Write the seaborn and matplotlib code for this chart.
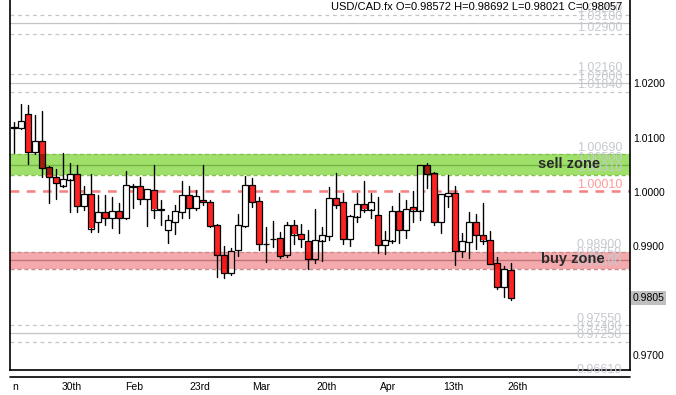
import numpy as np
import pandas as pd
import seaborn as sns
import matplotlib.pyplot as plt
import matplotlib.colors as mcolors
import matplotlib.transforms as mtransforms
from matplotlib.lines import Line2D

# OHLC candles (oldest first)
opens = [1.0119, 1.0118, 1.0143, 1.0074, 1.0093, 1.0045, 1.0027, 1.0012, 1.0023, 1.0033,
         0.9975, 0.9996, 0.9945, 0.9963, 0.9952, 0.9964, 0.9953, 1.0011, 1.0011, 0.9988,
         1.0003, 0.9968, 0.9931, 0.9945, 0.9964, 0.9995, 0.9971, 0.9985, 0.9981, 0.9939,
         0.9884, 0.9852, 0.9893, 0.9938, 1.0013, 0.9983, 0.9905, 0.9914, 0.9915, 0.9884,
         0.9939, 0.9922, 0.9909, 0.9877, 0.9911, 0.9920, 0.9988, 0.9981, 0.9914, 0.9955,
         0.9977, 0.9968, 0.9957, 0.9902, 0.9911, 0.9964, 0.9931, 0.9972, 0.9966, 1.0049,
         1.0034, 0.9945, 0.9992, 0.9998, 0.9892, 0.9909, 0.9944, 0.9920, 0.9911, 0.9869,
         0.98247, 0.98572]
highs = [1.0128, 1.0162, 1.0160, 1.0142, 1.0149, 1.0047, 1.0042, 1.0071, 1.0053, 1.0050,
         1.0011, 1.0033, 0.9995, 0.9995, 0.9991, 0.9980, 1.0039, 1.0015, 1.0028, 1.0005,
         1.0050, 0.9985, 0.9958, 0.9976, 1.0020, 1.0011, 1.0004, 1.0050, 0.9985, 0.9942,
         0.9901, 0.9897, 0.9960, 1.0029, 1.0026, 0.9990, 0.9936, 0.9947, 0.9926, 0.9944,
         0.9949, 0.9941, 0.9930, 0.9969, 0.9936, 1.0009, 1.0035, 0.9998, 0.9958, 0.9998,
         1.0020, 0.9998, 0.9991, 0.9928, 0.9974, 0.9998, 0.9985, 1.0001, 1.0049, 1.0053,
         1.0037, 0.9996, 1.0031, 1.0011, 0.9925, 0.9963, 0.9960, 0.9980, 0.9928, 0.9880,
         0.98633, 0.98692]
lows = [1.0071, 1.0115, 1.0052, 1.0069, 1.0028, 0.9980, 0.9988, 1.0010, 0.9964, 0.9964,
        0.9967, 0.9927, 0.9927, 0.9939, 0.9934, 0.9925, 0.9950, 0.9971, 0.9978, 0.9938,
        0.9953, 0.9939, 0.9906, 0.9923, 0.9953, 0.9953, 0.9966, 0.9976, 0.9936, 0.9844,
        0.9841, 0.9847, 0.9882, 0.9936, 0.9973, 0.9893, 0.9872, 0.9898, 0.9879, 0.9881,
        0.9904, 0.9898, 0.9858, 0.9870, 0.9874, 0.9911, 0.9971, 0.9905, 0.9900, 0.9945,
        0.9963, 0.9953, 0.9888, 0.9886, 0.9907, 0.9907, 0.9916, 0.9944, 0.9949, 1.0008,
        0.9939, 0.9925, 0.9973, 0.9865, 0.9881, 0.9879, 0.9895, 0.9904, 0.9867, 0.9822,
        0.98063, 0.98021]
closes = [1.0118, 1.0131, 1.0074, 1.0093, 1.0045, 1.0027, 1.0016, 1.0023, 1.0033, 0.9975,
          0.9996, 0.9933, 0.9963, 0.9952, 0.9964, 0.9953, 1.0012, 1.0010, 0.9988, 1.0005,
          0.9968, 0.9967, 0.9948, 0.9964, 0.9995, 0.9971, 0.9993, 0.9981, 0.9938, 0.9885,
          0.9852, 0.9891, 0.9939, 1.0013, 0.9982, 0.9904, 0.9904, 0.9913, 0.9883, 0.9939,
          0.9922, 0.9914, 0.9877, 0.9911, 0.9920, 0.9988, 0.9976, 0.9914, 0.9955, 0.9977,
          0.9968, 0.9981, 0.9902, 0.9911, 0.9964, 0.9931, 0.9968, 0.9966, 1.0049, 1.0033,
          0.9945, 0.9996, 0.9998, 0.9892, 0.9909, 0.9944, 0.9921, 0.9911, 0.9868, 0.9825,
          0.98578, 0.98057]

# x axis date labels (position in candle index)
date_ticks = [0.15, 8.3, 17.1, 26.6, 35.3, 44.6, 53.4, 62.7, 71.9]
date_labels = ['n', '30th', 'Feb', '23rd', 'Mar', '20th', 'Apr', '13th', '26th']

price_ticks = [0.97, 0.99, 1.00, 1.01, 1.02]
last_price = 0.9805

# gray support/resistance lines
level_prices = [1.0325, 1.0310, 1.0290, 1.0216, 1.0200, 1.0184, 0.9755, 0.9740, 0.9725, 0.9661]
level_dashed = [True, False, True, True, False, True, True, False, True, True]
level_texts = ['1.03250', '1.03100', '1.02900', '1.02160', '1.02000', '1.01840',
               '0.97550', '0.97400', '0.97250', '0.96610']

# zones: low, mid, high
sell_zone = [1.0031, 1.0050, 1.0069]
sell_texts = ['1.00310', '1.00500', '1.00690']
buy_zone = [0.9859, 0.9875, 0.9890]
buy_texts = ['0.98590', '0.98750', '0.98900']
pivot_price = 1.0001
pivot_text = '1.00010'

title = 'USD/CAD.fx O=0.98572 H=0.98692 L=0.98021 C=0.98057'

sns.set_theme(style='white')
plt.rcParams['font.family'] = ['Liberation Sans', 'DejaVu Sans']

df = pd.DataFrame({'open': opens, 'high': highs, 'low': lows, 'close': closes})
df['idx'] = np.arange(len(df))
df['lo'] = df[['open', 'close']].min(axis=1)
df['hi'] = df[['open', 'close']].max(axis=1)
df['up'] = df['close'] > df['open']

fig = plt.figure(figsize=(6.76, 3.95), dpi=100)
ax = fig.add_axes([10 / 676, 25 / 395, 620 / 676, 370 / 395])

RED = '#ff2222'
GREEN = '#9fe06b'
PINK = '#f4aaac'

# zones (behind the candles, multiplied onto bodies below)
for z, fc, lc_d, lc_s, texts in [(sell_zone, GREEN, '#86c04f', '#74b446', sell_texts),
                                  (buy_zone, PINK, '#c98a8c', '#c27375', buy_texts)]:
    ax.axhspan(z[0], z[2], color=fc, lw=0, zorder=1)
    ax.axhline(z[0], color=lc_d, lw=1, ls=(0, (3, 2)), zorder=1.2)
    ax.axhline(z[2], color=lc_d, lw=1, ls=(0, (3, 2)), zorder=1.2)
    ax.axhline(z[1], color=lc_s, lw=1, zorder=1.2)

for p, dashed in zip(level_prices, level_dashed):
    ax.axhline(p, color='#c4c4c4', lw=0.9, ls=(0, (3, 3)) if dashed else '-', zorder=1.2)

ax.axhline(pivot_price, color='#f58080', lw=1.8, ls=(0, (3.5, 3)), zorder=1.3)

# wicks
wick_df = pd.DataFrame({'idx': np.repeat(df['idx'].values, 2),
                        'price': np.column_stack([df['low'], df['high']]).ravel()})
sns.lineplot(data=wick_df, x='idx', y='price', units='idx', estimator=None,
             color='black', lw=1, ax=ax, zorder=2, legend=False)

# bodies
body_colors = np.where(df['up'], 'white', RED)
ax.bar(df['idx'], df['hi'] - df['lo'], bottom=df['lo'], width=0.72,
       color=body_colors, lw=0, zorder=3)

# multiply-blend the zones onto the bodies
for z, fc in [(sell_zone, GREEN), (buy_zone, PINK)]:
    zc = np.array(mcolors.to_rgb(fc))
    for _, r in df.iterrows():
        lo = max(r['lo'], z[0])
        hi = min(r['hi'], z[2])
        if hi > lo:
            bc = np.array(mcolors.to_rgb('white' if r['up'] else RED))
            ax.bar(r['idx'], hi - lo, bottom=lo, width=0.72, color=tuple(zc * bc),
                   lw=0, zorder=3.1)

ax.bar(df['idx'], df['hi'] - df['lo'] + 0.00004, bottom=df['lo'] - 0.00002, width=0.72,
       facecolor='none', edgecolor='black', lw=0.9, zorder=3.2)

ax.set_xlim(-4 / 7, 88)
ax.set_ylim(1 - 178 / 5440, 1 + 192 / 5440)

trans = mtransforms.blended_transform_factory(ax.transAxes, ax.transData)
lab_x = 0.987
for p, t in zip(level_prices, level_texts):
    ax.text(lab_x, p + 0.00012, t, transform=trans, ha='right', va='bottom',
            fontsize=9, color='#c6c9d0', zorder=4)
for z, texts in [(sell_zone, sell_texts), (buy_zone, buy_texts)]:
    for p, t in zip(z, texts):
        ax.text(lab_x, p + 0.00012, t, transform=trans, ha='right', va='bottom',
                fontsize=9, color='#c6c9d0', zorder=4)
ax.text(lab_x, pivot_price + 0.00012, pivot_text, transform=trans, ha='right',
        va='bottom', fontsize=9, color='#ff9a9a', zorder=4)

ax.text(0.9516, 1.0052, 'sell zone', transform=trans, ha='right', va='center',
        fontsize=10.5, fontweight='bold', color='#2a2a2a', zorder=5)
ax.text(0.9597, 0.9876, 'buy zone', transform=trans, ha='right', va='center',
        fontsize=10.5, fontweight='bold', color='#2a2a2a', zorder=5)

ax.text(0.987, 0.995, title, transform=ax.transAxes, ha='right', va='top',
        fontsize=8, color='black', zorder=5)

# axes
ax.yaxis.tick_right()
ax.set_yticks(price_ticks)
ax.set_yticklabels([f'{p:.4f}' for p in price_ticks])
ax.tick_params(axis='y', length=0, pad=2, labelsize=7.5, labelcolor='black')
ax.set_xticks(date_ticks)
ax.set_xticklabels(date_labels)
ax.tick_params(axis='x', length=0, pad=9, labelsize=7.5, labelcolor='black')
ax.set_xlabel('')
ax.set_ylabel('')
ax.text(1.004, last_price, f'{last_price:.4f}', transform=trans, ha='left', va='center',
        fontsize=7.5, color='black', bbox=dict(fc='#c0c0c0', ec='none', pad=1.2),
        clip_on=False)

ax.spines['top'].set_visible(False)
for s in ['left', 'right', 'bottom']:
    ax.spines[s].set_color('black')
    ax.spines[s].set_linewidth(1.2)
fig.add_artist(Line2D([10 / 676, 630 / 676], [18 / 395, 18 / 395], color='black', lw=1.2))

fig.savefig('out.png', dpi=100)
